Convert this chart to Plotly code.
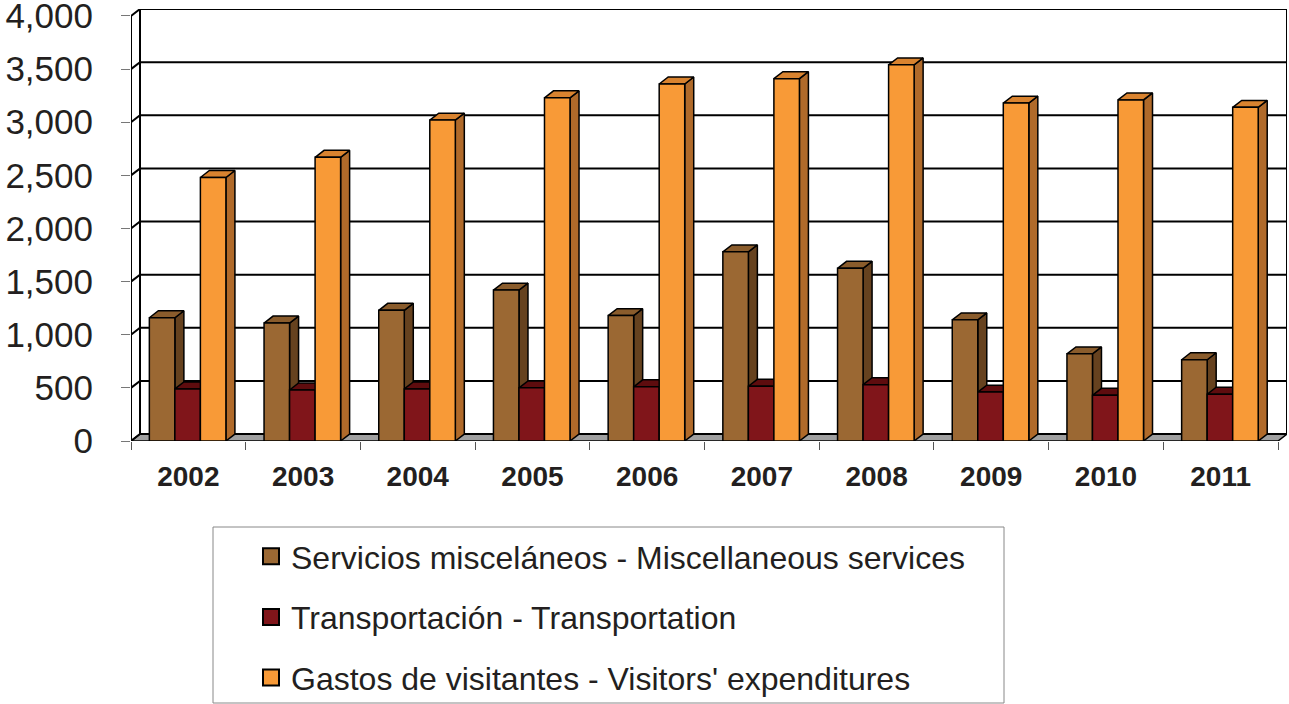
import plotly.graph_objects as go

# ---- data ----
years = ['2002', '2003', '2004', '2005', '2006', '2007', '2008', '2009', '2010', '2011']
misc = [1160, 1110, 1230, 1420, 1180, 1780, 1625, 1140, 820, 765]
trans = [490, 480, 490, 500, 510, 515, 530, 460, 430, 440]
visit = [2480, 2670, 3020, 3230, 3360, 3410, 3540, 3180, 3210, 3140]
series_names = ['Servicios misceláneos - Miscellaneous services',
                'Transportación - Transportation',
                "Gastos de visitantes - Visitors' expenditures"]
y_ticks = [0, 500, 1000, 1500, 2000, 2500, 3000, 3500, 4000]

# ---- style ----
FONT = 'Liberation Sans, Arial, sans-serif'
TXT = '#231F20'
front_cols = ['#9B6833', '#80151A', '#F89A37']
side_cols = ['#66421F', '#5A0C0E', '#B06A2A']
top_cols = ['#8A5C2C', '#5E0C0E', '#D9832F']
DX = 0.0785   # depth (category units)
DY = 65.8     # depth (value units)
BW = 0.2225   # bar width
G0 = -0.34    # group start relative to category centre

W, H = 1289, 704
ML, MR, MT, MB = 131, 2, 9, 263
PW, PH = W - ML - MR, H - MT - MB


def px_to_paper(px, py):
    return (px - ML) / PW, (H - MB - py) / PH


n = len(years)
xL, xR = -0.5, n - 0.5
centers = list(range(n))

fig = go.Figure()

# floor
fig.add_trace(go.Scatter(
    x=[xL, xR, xR + DX, xL + DX, xL], y=[0, 0, DY, DY, 0],
    mode='lines', fill='toself', fillcolor='#A0A0A0',
    line=dict(color='black', width=1.5), hoverinfo='skip', showlegend=False))

# walls / gridlines
gx, gy = [], []
for t in y_ticks:
    gx += [xL, xL + DX, xR + DX, None]
    gy += [t, t + DY, t + DY, None]
gx += [xL, xL, None, xL + DX, xL + DX, None, xR + DX, xR + DX, None]
gy += [0, y_ticks[-1], None, DY, y_ticks[-1] + DY, None, DY, y_ticks[-1] + DY, None]
fig.add_trace(go.Scatter(x=gx, y=gy, mode='lines',
                         line=dict(color='black', width=2),
                         hoverinfo='skip', showlegend=False))

# bars (3D look)
for i, vals in enumerate([misc, trans, visit]):
    sx, sy, tx, ty, fx, fy = [], [], [], [], [], []
    for c, v in zip(centers, vals):
        x0 = c + G0 + i * BW
        x1 = x0 + BW
        sx += [x1, x1 + DX, x1 + DX, x1, x1, None]
        sy += [0, DY, v + DY, v, 0, None]
        tx += [x0, x0 + DX, x1 + DX, x1, x0, None]
        ty += [v, v + DY, v + DY, v, v, None]
        fx += [x0, x1, x1, x0, x0, None]
        fy += [0, 0, v, v, 0, None]
    for xs, ys, col in [(sx, sy, side_cols[i]), (tx, ty, top_cols[i]), (fx, fy, front_cols[i])]:
        fig.add_trace(go.Scatter(x=xs, y=ys, mode='lines', fill='toself',
                                 fillcolor=col, line=dict(color='black', width=1.5),
                                 hoverinfo='skip', showlegend=False))

# legend entries
for i, name in enumerate(series_names):
    fig.add_trace(go.Scatter(
        x=[None], y=[None], mode='markers', name=name, legendgroup=f'g{i}',
        marker=dict(symbol='square', size=16, color=front_cols[i],
                    line=dict(color='black', width=2))))

# legend box
bx0, by0 = px_to_paper(213, 703)
bx1, by1 = px_to_paper(1004, 527)
fig.add_shape(type='rect', xref='paper', yref='paper', x0=bx0, y0=by0, x1=bx1, y1=by1,
              line=dict(color='#888', width=1), fillcolor='rgba(0,0,0,0)')

lx, ly = px_to_paper(251, 529)

fig.update_layout(
    width=W, height=H,
    margin=dict(l=ML, r=MR, t=MT, b=MB, autoexpand=False),
    paper_bgcolor='white', plot_bgcolor='white',
    font=dict(family=FONT, color=TXT),
    xaxis=dict(range=[xL, xR + DX], tickvals=centers,
               ticktext=[f'<b>{y}</b>' for y in years],
               tickfont=dict(size=28, family=FONT, color=TXT),
               ticks='outside', ticklen=10, tickcolor='rgba(0,0,0,0)',
               showgrid=False, zeroline=False, showline=False, automargin=False,
               minor=dict(tickvals=[c - 0.5 for c in range(n + 1)], ticks='outside',
                          ticklen=8, tickcolor='#555', tickwidth=1, showgrid=False),
               fixedrange=True),
    yaxis=dict(range=[0, y_ticks[-1] + DY], tickvals=y_ticks,
               ticktext=[f'{t:,}' for t in y_ticks],
               tickfont=dict(size=35, family=FONT, color=TXT),
               ticks='outside', ticklen=9, tickcolor='#777', tickwidth=1,
               ticklabelstandoff=21, ticklabeloverflow='allow', automargin=False,
               showgrid=False, zeroline=False, showline=False, fixedrange=True),
    legend=dict(x=lx, y=ly, xanchor='left', yanchor='top',
                borderwidth=0, bgcolor='rgba(0,0,0,0)',
                font=dict(size=32, family=FONT, color=TXT),
                tracegroupgap=16, traceorder='grouped'),
    showlegend=True,
)

fig.write_html('out.html', config={'displayModeBar': False},
               post_script="document.body.style.margin='0';")
